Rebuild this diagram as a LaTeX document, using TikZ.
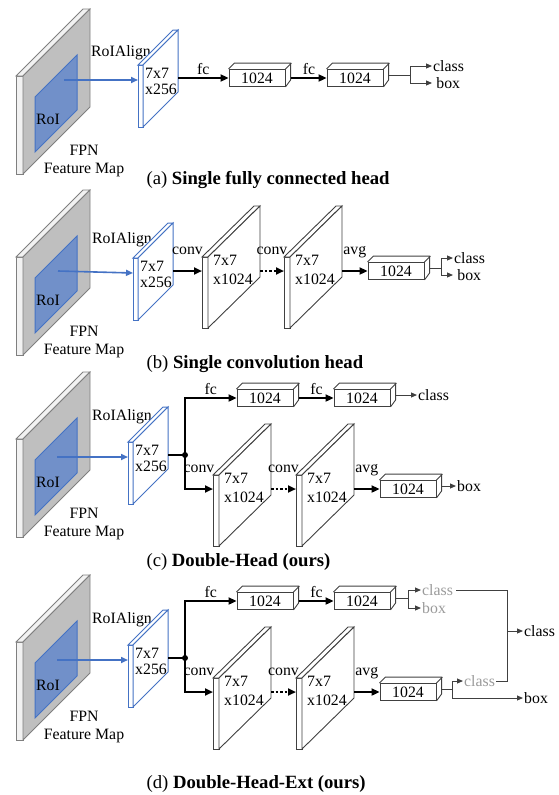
\documentclass[tikz,border=0pt]{standalone}
\usepackage{fontspec}
\setmainfont{Liberation Serif}
\usetikzlibrary{arrows.meta}

\definecolor{fmgray}{HTML}{BFBFBF}
\definecolor{fmside}{HTML}{F2F2F2}
\definecolor{fmline}{HTML}{7F7F7F}
\definecolor{roiblue}{HTML}{4472C4}
\definecolor{roifill}{HTML}{7190C9}
\definecolor{boxline}{HTML}{404040}
\definecolor{softgray}{HTML}{9A9A9A}

% feature map with RoI, #1 panel, #2 y offset
\newcommand{\fmap}[2]{%
  \begin{scope}[shift={(0,#2)}]
    \draw[featside] (16,174) -- (16,76) -- (23,76) -- (23,174) -- cycle;
    \draw[featside] (16,76) -- (83,9) -- (90,9) -- (23,76) -- cycle;
    \draw[feat] (23,174) -- (23,76) -- (90,9) -- (90,107) -- cycle;
    \draw[roibox] (35,152) -- (35,97) -- (77,55) -- (77,110) -- cycle;
    \node (#1-roi) at (48,119) {RoI};
    \node[align=center] (#1-fpn) at (84,161) {FPN\\Feature Map};
  \end{scope}}

% 7x7x256 block, #1 panel, #2 dx, #3 dy
\newcommand{\roiblk}[3]{%
  \begin{scope}[shift={(#2,#3)}]
    \draw[blkline] (138,65) -- (143,65) -- (143,127) -- (138,127) -- cycle;
    \draw[blkline] (138,65) -- (173,30) -- (178,30) -- (143,65) -- cycle;
    \draw[blkline] (143,127) -- (143,65) -- (178,30) -- (178,92) -- cycle;
    \node[blktxt] (#1-blk) at (145,68) {7x7\\x256};
    \coordinate (#1-blkin) at (138,80);
    \coordinate (#1-blkout) at (178,78);
  \end{scope}}

% conv slab, #1 name, #2 x, #3 y
\newcommand{\slab}[3]{%
  \draw[slabline] (#2,#3) -- ++(6,0) -- ++(0,71) -- ++(-6,0) -- cycle;
  \draw[slabline] (#2,#3) -- ++(52,-51) -- ++(6,0) -- ++(-52,51) -- cycle;
  \draw[slabline] (#2+6,#3+71) -- ++(0,-71) -- ++(52,-51) -- ++(0,71) -- cycle;
  \node[slabtxt] (#1) at (#2+11,#3-2) {7x7\\x1024};
  \coordinate (#1in) at (#2,#3+14);
  \coordinate (#1out) at (#2+58,#3+14);}

% fc box, #1 name, #2 centre
\newcommand{\fcbox}[2]{%
  \node[fcbox] (#1) at (#2) {1024};
  \draw[boxln] (#1.north west) -- ++(6,-6) -- ++(56,0) -- ++(0,17) -- (#1.south east)
    (#1.north east) -- ++(6,-6);}

\begin{document}
\begin{tikzpicture}[x=1pt, y=-1pt, font=\fontsize{15.8}{18.5}\selectfont,
  feat/.style={draw=fmline, fill=fmgray, line width=0.8pt},
  featside/.style={draw=fmline, fill=fmside, line width=0.8pt},
  roibox/.style={draw=roiblue, fill=roifill, line width=1pt},
  blkline/.style={draw=roiblue, fill=white, line width=1pt},
  slabline/.style={draw=boxline, fill=white, line width=0.9pt},
  fcbox/.style={draw=boxline, fill=white, line width=0.9pt, minimum width=56pt, minimum height=17pt, inner sep=0pt},
  boxln/.style={draw=boxline, line width=0.9pt},
  blktxt/.style={anchor=north west, inner sep=0pt, align=left, font=\fontsize{15.8}{16}\selectfont},
  slabtxt/.style={anchor=north west, inner sep=0pt, align=left, font=\fontsize{15.8}{19}\selectfont},
  flow/.style={line width=2.2pt, -{Triangle[length=8pt,width=7pt]}},
  flowdot/.style={flow, dash pattern=on 2.5pt off 2pt},
  flowln/.style={line width=2.2pt},
  roiarrow/.style={draw=roiblue, line width=1.6pt, -{Triangle[length=7pt,width=6pt]}},
  outln/.style={draw=boxline, line width=1pt},
  outarr/.style={outln, -{Triangle[length=6pt,width=5pt]}},
  outtxt/.style={anchor=west, inner sep=1pt},
  graytxt/.style={text=softgray},
  lbl/.style={anchor=base, yshift=4pt},
  lblhi/.style={anchor=base, yshift=17pt},
  captxt/.style={anchor=west, font=\fontsize{18.7}{22}\selectfont}]
\useasboundingbox (0,0) rectangle (558,795);

% (a)
\fmap{a}{0}
\node (a-align) at (121,53) {RoIAlign};
\roiblk{a}{0}{0}
\coordinate (a-src) at (64,80);
\draw[roiarrow] (a-src) -- (a-blkin);
\fcbox{a-fc1}{257,78}
\fcbox{a-fc2}{355,78}
\draw[flow] (a-blkout) -- node[lbl] {fc} (a-fc1.west);
\draw[flow] ([xshift=6pt]a-fc1.east) -- node[lbl] {fc} (a-fc2.west);
\draw[outln] ([shift={(6,-3)}]a-fc2.east) -- ++(21,0) coordinate (a-split);
\node[outtxt] (a-cls) at (432,66) {class};
\node[outtxt, minimum width=32pt] (a-box) at (432,83) {box};
\draw[outarr] (a-split) |- (a-cls.west);
\draw[outarr] (a-split) |- (a-box.west);
\node[captxt] (a-cap) at (143,180) {(a) \textbf{Single fully connected head}};

% (b)
\fmap{b}{181}
\node (b-align) at (122,240) {RoIAlign};
\roiblk{b}{-5}{193}
\coordinate (b-src) at (58,271);
\draw[roiarrow] (b-src) -- (b-blkin);
\slab{b-s1}{202}{257}
\slab{b-s2}{284}{257}
\fcbox{b-fc}{396,271}
\draw[flow] (b-blkout) -- node[lblhi] {conv} (b-s1in);
\draw[flowdot] (b-s1out) -- node[lblhi] {conv} (b-s2in);
\draw[flow] (b-s2out) -- node[lblhi] {avg} (b-fc.west);
\draw[outln] ([shift={(6,-3)}]b-fc.east) -- ++(11,0) coordinate (b-split);
\node[outtxt] (b-cls) at (453,258) {class};
\node[outtxt, minimum width=32pt] (b-box) at (453,275) {box};
\draw[outarr] (b-split) |- (b-cls.west);
\draw[outarr] (b-split) |- (b-box.west);
\node[captxt] (b-cap) at (143,364) {(b) \textbf{Single convolution head}};

% (c)
\fmap{c}{363}
\node (c-align) at (122,417) {RoIAlign};
\roiblk{c}{-10}{377}
\coordinate (c-src) at (57,457);
\draw[roiarrow] (c-src) -- (c-blkin);
\coordinate (c-jn) at (185,455);
\draw[flowln] (c-blkout) -- (c-jn);
\fill (c-jn) circle (3pt);
\fcbox{c-fc1}{265,398}
\fcbox{c-fc2}{362,398}
\slab{c-s1}{213}{475}
\slab{c-s2}{296}{475}
\fcbox{c-fc3}{408,489}
\draw[flow] (c-jn) |- node[lbl, pos=0.75] {fc} (c-fc1.west);
\draw[flow] ([xshift=6pt]c-fc1.east) -- node[lbl] {fc} (c-fc2.west);
\draw[flow] (c-jn) |- node[lblhi, pos=0.75] {conv} (c-s1in);
\draw[flowdot] (c-s1out) -- node[lblhi] {conv} (c-s2in);
\draw[flow] (c-s2out) -- node[lblhi] {avg} (c-fc3.west);
\node[outtxt] (c-cls) at (417,395) {class};
\draw[outarr] ([shift={(6,-3)}]c-fc2.east) -- (c-cls.west);
\node[outtxt] (c-box) at (456,486) {box};
\draw[outarr] ([shift={(6,-3)}]c-fc3.east) -- (c-box.west);
\node[captxt] (c-cap) at (143,562) {(c) \textbf{Double-Head (ours)}};

% (d)
\fmap{d}{566}
\node (d-align) at (122,620) {RoIAlign};
\roiblk{d}{-10}{580}
\coordinate (d-src) at (57,660);
\draw[roiarrow] (d-src) -- (d-blkin);
\coordinate (d-jn) at (185,658);
\draw[flowln] (d-blkout) -- (d-jn);
\fill (d-jn) circle (3pt);
\fcbox{d-fc1}{265,601}
\fcbox{d-fc2}{362,601}
\slab{d-s1}{213}{678}
\slab{d-s2}{296}{678}
\fcbox{d-fc3}{408,692}
\draw[flow] (d-jn) |- node[lbl, pos=0.75] {fc} (d-fc1.west);
\draw[flow] ([xshift=6pt]d-fc1.east) -- node[lbl] {fc} (d-fc2.west);
\draw[flow] (d-jn) |- node[lblhi, pos=0.75] {conv} (d-s1in);
\draw[flowdot] (d-s1out) -- node[lblhi] {conv} (d-s2in);
\draw[flow] (d-s2out) -- node[lblhi] {avg} (d-fc3.west);
\draw[outln] ([shift={(6,-3)}]d-fc2.east) -- ++(12,0) coordinate (d-split);
\node[outtxt, graytxt] (d-gcls) at (421,590) {class};
\node[outtxt, graytxt] (d-gbox) at (421,608) {box};
\draw[outarr] (d-split) |- (d-gcls.west);
\draw[outarr] (d-split) |- (d-gbox.west);
\draw[outln] ([shift={(6,-3)}]d-fc3.east) -- ++(10,0) coordinate (d-split2);
\node[outtxt, graytxt] (d-gcls2) at (463,681) {class};
\node[outtxt] (d-box) at (523,698) {box};
\draw[outarr] (d-split2) |- (d-gcls2.west);
\draw[outarr] (d-split2) |- (d-box.west);
\coordinate (d-merge) at (507,631);
\node[outtxt] (d-cls) at (523,631) {class};
\draw[outln] ([xshift=2pt]d-gcls.east) -| (d-merge);
\draw[outln] (d-gcls2.east) -| (d-merge);
\draw[outarr] (d-merge) -- (d-cls.west);
\node[captxt] (d-cap) at (143,784) {(d) \textbf{Double-Head-Ext (ours)}};
\end{tikzpicture}
\end{document}
